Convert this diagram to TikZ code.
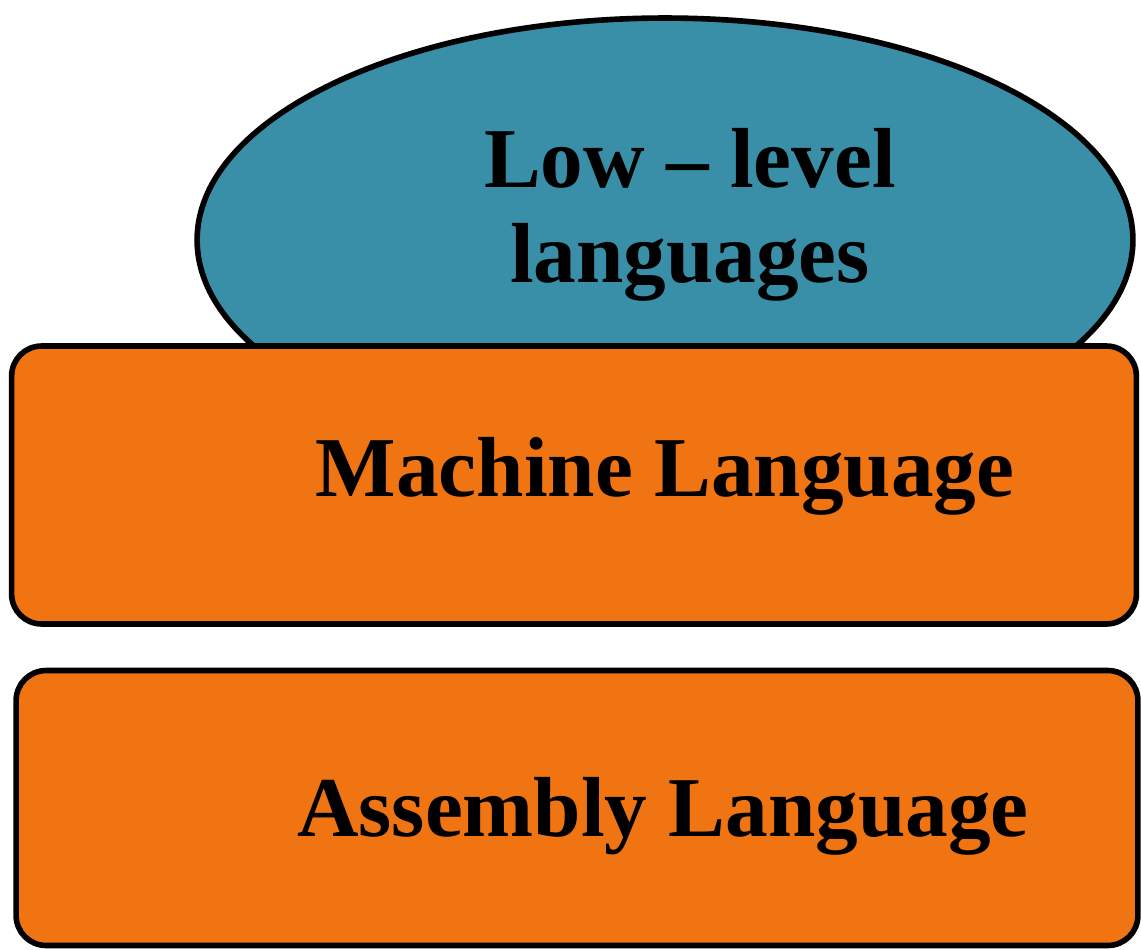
\documentclass[tikz,border=0pt]{standalone}
\usepackage{fontspec}
\setmainfont{Liberation Serif}
\usepackage{tikz}
\usetikzlibrary{positioning}
\usetikzlibrary{shapes.geometric}
\definecolor{lowblue}{HTML}{3A8FA8}
\definecolor{langorange}{HTML}{F07412}
\tikzset {
  % the blue dome on top
  dome/.style = {draw, ellipse, line width=3.2pt, fill=lowblue,
    minimum width=18.72cm, minimum height=8.88cm},
  % orange layers
  layer/.style = {draw, rectangle, rounded corners=0.6cm, line width=3.2pt,
    fill=langorange},
  % big bold labels
  bigtext/.style = {font=\bfseries\fontsize{48.5}{54}\selectfont, align=center},
}

\begin{document}
\begin{tikzpicture}[x=0.02cm, y=-0.02cm]
        \useasboundingbox (0,0) rectangle (1141,949);

        \node[dome] (low) at (665,240) {};
        \node[bigtext] (lowtext) at (690,215) {Low -- level\\languages};

        \node[layer, minimum width=22.5cm, minimum height=5.56cm] (machine) at (574,485) {};
        \node[bigtext] (machinetext) at (665,476) {Machine Language};

        \node[layer, minimum width=22.44cm, minimum height=5.5cm] (assembly) at (577,808) {};
        \node[bigtext] (assemblytext) at (663,816) {Assembly Language};
      \end{tikzpicture}
\end{document}
